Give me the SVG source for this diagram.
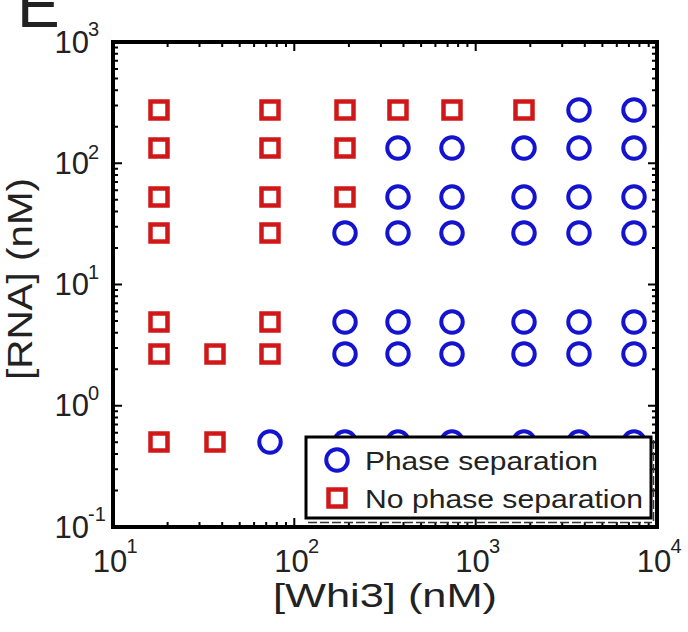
<svg xmlns="http://www.w3.org/2000/svg" xmlns:xlink="http://www.w3.org/1999/xlink" width="688" height="632" viewBox="0 0 688 632">
<style>
  .sq { fill: none; stroke: #d01818; stroke-width: 4.5; }
  .ci { fill: none; stroke: #1414d0; stroke-width: 4; }
  .tick { fill: none; stroke: #000; stroke-width: 2; }
  .lbl { font-family: "Liberation Sans", Arial, sans-serif; fill: #222; }
  .base { font-size: 31px; }
  .sup { font-size: 20px; }
</style>
<defs>
  <rect id="sq" class="sq" x="-8.5" y="-8.5" width="17" height="17"/>
  <circle id="ci" class="ci" r="10.75"/>
</defs>
<rect width="688" height="632" fill="#fff"/>

<g id="panel-label">
  <text class="lbl" x="17" y="27" font-size="64">E</text>
</g>

<g id="ticks">
  <path class="tick" d="M167.6,527v-5M199.5,527v-5M222.2,527v-5M239.7,527v-5M254.1,527v-5M266.2,527v-5M276.8,527v-5M286,527v-5M294.3,527v-9M348.9,527v-5M380.9,527v-5M403.5,527v-5M421.1,527v-5M435.4,527v-5M447.6,527v-5M458.1,527v-5M467.4,527v-5M475.7,527v-9M530.3,527v-5M562.2,527v-5M584.8,527v-5M602.4,527v-5M616.8,527v-5M628.9,527v-5M639.4,527v-5M648.7,527v-5"/>
  <path class="tick" d="M167.6,42v5M199.5,42v5M222.2,42v5M239.7,42v5M254.1,42v5M266.2,42v5M276.8,42v5M286,42v5M294.3,42v9M348.9,42v5M380.9,42v5M403.5,42v5M421.1,42v5M435.4,42v5M447.6,42v5M458.1,42v5M467.4,42v5M475.7,42v9M530.3,42v5M562.2,42v5M584.8,42v5M602.4,42v5M616.8,42v5M628.9,42v5M639.4,42v5M648.7,42v5"/>
  <path class="tick" d="M113,490.5h5M113,469.2h5M113,454h5M113,442.3h5M113,432.7h5M113,424.5h5M113,417.5h5M113,411.3h5M113,405.75h9M113,369.3h5M113,347.9h5M113,332.8h5M113,321h5M113,311.4h5M113,303.3h5M113,296.3h5M113,290.1h5M113,284.5h9M113,248h5M113,226.7h5M113,211.5h5M113,199.8h5M113,190.2h5M113,182h5M113,175h5M113,168.8h5M113,163.25h9M113,126.8h5M113,105.4h5M113,90.3h5M113,78.5h5M113,68.9h5M113,60.8h5M113,53.8h5M113,47.6h5"/>
  <path class="tick" d="M657,490.5h-5M657,469.2h-5M657,454h-5M657,442.3h-5M657,432.7h-5M657,424.5h-5M657,417.5h-5M657,411.3h-5M657,405.75h-9M657,369.3h-5M657,347.9h-5M657,332.8h-5M657,321h-5M657,311.4h-5M657,303.3h-5M657,296.3h-5M657,290.1h-5M657,284.5h-9M657,248h-5M657,226.7h-5M657,211.5h-5M657,199.8h-5M657,190.2h-5M657,182h-5M657,175h-5M657,168.8h-5M657,163.25h-9M657,126.8h-5M657,105.4h-5M657,90.3h-5M657,78.5h-5M657,68.9h-5M657,60.8h-5M657,53.8h-5M657,47.6h-5"/>
</g>

<g id="no-phase-separation">
  <use xlink:href="#sq" x="159" y="110"/><use xlink:href="#sq" x="270" y="110"/><use xlink:href="#sq" x="345" y="110"/><use xlink:href="#sq" x="398" y="110"/><use xlink:href="#sq" x="452" y="110"/><use xlink:href="#sq" x="524" y="110"/>
  <use xlink:href="#sq" x="159" y="148"/><use xlink:href="#sq" x="270" y="148"/><use xlink:href="#sq" x="345" y="148"/>
  <use xlink:href="#sq" x="159" y="197"/><use xlink:href="#sq" x="270" y="197"/><use xlink:href="#sq" x="345" y="197"/>
  <use xlink:href="#sq" x="159" y="233"/><use xlink:href="#sq" x="270" y="233"/>
  <use xlink:href="#sq" x="159" y="322"/><use xlink:href="#sq" x="270" y="322"/>
  <use xlink:href="#sq" x="159" y="354"/><use xlink:href="#sq" x="215" y="354"/><use xlink:href="#sq" x="270" y="354"/>
  <use xlink:href="#sq" x="159" y="442"/><use xlink:href="#sq" x="215" y="442"/>
</g>

<g id="phase-separation">
  <use xlink:href="#ci" x="579" y="110"/><use xlink:href="#ci" x="634" y="110"/>
  <use xlink:href="#ci" x="398" y="148"/><use xlink:href="#ci" x="452" y="148"/><use xlink:href="#ci" x="524" y="148"/><use xlink:href="#ci" x="579" y="148"/><use xlink:href="#ci" x="634" y="148"/>
  <use xlink:href="#ci" x="398" y="197"/><use xlink:href="#ci" x="452" y="197"/><use xlink:href="#ci" x="524" y="197"/><use xlink:href="#ci" x="579" y="197"/><use xlink:href="#ci" x="634" y="197"/>
  <use xlink:href="#ci" x="345" y="233"/><use xlink:href="#ci" x="398" y="233"/><use xlink:href="#ci" x="452" y="233"/><use xlink:href="#ci" x="524" y="233"/><use xlink:href="#ci" x="579" y="233"/><use xlink:href="#ci" x="634" y="233"/>
  <use xlink:href="#ci" x="345" y="322"/><use xlink:href="#ci" x="398" y="322"/><use xlink:href="#ci" x="452" y="322"/><use xlink:href="#ci" x="524" y="322"/><use xlink:href="#ci" x="579" y="322"/><use xlink:href="#ci" x="634" y="322"/>
  <use xlink:href="#ci" x="345" y="354"/><use xlink:href="#ci" x="398" y="354"/><use xlink:href="#ci" x="452" y="354"/><use xlink:href="#ci" x="524" y="354"/><use xlink:href="#ci" x="579" y="354"/><use xlink:href="#ci" x="634" y="354"/>
  <use xlink:href="#ci" x="270" y="442"/><use xlink:href="#ci" x="345" y="442"/><use xlink:href="#ci" x="398" y="442"/><use xlink:href="#ci" x="452" y="442"/><use xlink:href="#ci" x="524" y="442"/><use xlink:href="#ci" x="579" y="442"/><use xlink:href="#ci" x="634" y="442"/>
</g>

<g id="legend">
  <rect x="306" y="437" width="345" height="81" fill="#fff" stroke="#000" stroke-width="3"/>
  <path d="M308,522.5H652M653.5,440V522" fill="none" stroke="#333" stroke-width="1.5" stroke-dasharray="9 3"/>
  <use xlink:href="#ci" x="337" y="460"/>
  <use xlink:href="#sq" x="337" y="498"/>
  <text class="lbl" x="365" y="470" font-size="26" textLength="233" lengthAdjust="spacingAndGlyphs">Phase separation</text>
  <text class="lbl" x="365" y="508" font-size="26" textLength="278" lengthAdjust="spacingAndGlyphs">No phase separation</text>
</g>

<g id="frame">
  <rect x="113" y="42" width="544" height="485" fill="none" stroke="#000" stroke-width="4"/>
</g>

<g id="x-tick-labels" class="lbl">
  <text class="base" x="110" y="572" text-anchor="middle">10</text><text class="sup" x="126.5" y="553">1</text>
  <text class="base" x="291.5" y="572" text-anchor="middle">10</text><text class="sup" x="308" y="553">2</text>
  <text class="base" x="472.5" y="572" text-anchor="middle">10</text><text class="sup" x="489" y="553">3</text>
  <text class="base" x="654" y="572" text-anchor="middle">10</text><text class="sup" x="670.5" y="553">4</text>
</g>

<g id="y-tick-labels" class="lbl">
  <text class="base" x="89" y="53" text-anchor="end">10</text><text class="sup" x="88" y="36">3</text>
  <text class="base" x="89" y="174" text-anchor="end">10</text><text class="sup" x="88" y="159">2</text>
  <text class="base" x="89" y="295" text-anchor="end">10</text><text class="sup" x="88" y="279">1</text>
  <text class="base" x="89" y="416" text-anchor="end">10</text><text class="sup" x="88" y="400">0</text>
  <text class="base" x="89" y="538" text-anchor="end">10</text><text class="sup" x="88" y="521">-1</text>
</g>

<g id="axis-labels" class="lbl">
  <text x="385" y="607" font-size="34" text-anchor="middle" textLength="224" lengthAdjust="spacingAndGlyphs">[Whi3] (nM)</text>
  <text transform="translate(32,279) rotate(-90)" font-size="35" text-anchor="middle" textLength="202" lengthAdjust="spacingAndGlyphs">[RNA] (nM)</text>
</g>
</svg>
